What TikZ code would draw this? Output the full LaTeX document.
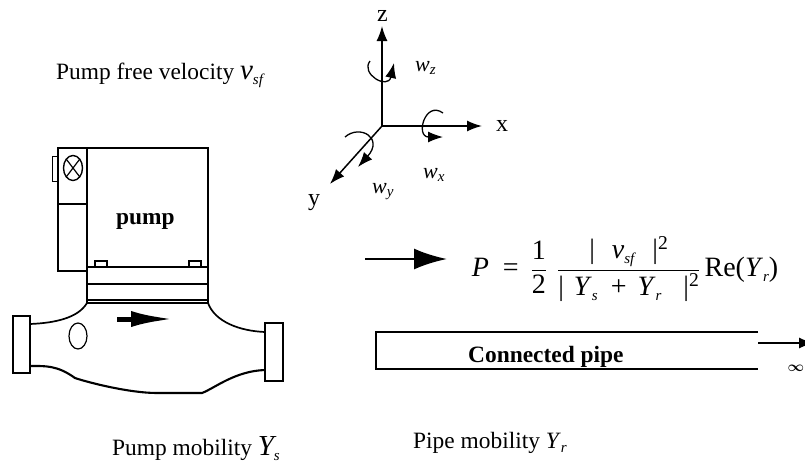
\documentclass[tikz,border=0pt]{standalone}
\usepackage{amsmath}
\usepackage{fontspec}
\setmainfont{Liberation Serif}
\usetikzlibrary{arrows.meta,positioning,shapes.geometric}
\newcommand{\ital}[1]{\textit{#1}}
% big italic letter, small lowered index
\newcommand{\lowtxt}[2][5pt]{\raisebox{-#1}{\fontsize{15}{15}\selectfont\itshape #2}}
\newcommand{\bigvar}[1]{{\fontsize{29}{30}\selectfont\itshape #1}}
\tikzset{
  lbl/.style={font=\fontsize{23.4}{26}\selectfont,inner sep=0pt,anchor=base west},
  lblb/.style={lbl,font=\fontsize{23.4}{26}\selectfont\bfseries},
  axlbl/.style={lbl,font=\fontsize{24}{26}\selectfont},
  rotlbl/.style={lbl,font=\fontsize{22}{24}\selectfont\itshape},
  body/.style={draw=black,line width=1.7pt,inner sep=0pt,outer sep=0pt},
  thinbody/.style={body,line width=1.2pt},
  axis/.style={-{Latex[length=15pt,width=11pt]},line width=1.5pt},
  spin/.style={-{Latex[length=15pt,width=11pt]},line width=1.3pt},
  flow/.style={-{Latex[length=33pt,width=21pt]},line width=2.6pt},
}
\begin{document}
\begin{tikzpicture}[x=1pt,y=-1pt]
  \useasboundingbox (0,0) rectangle (805,464);

  % texts
  \node[lbl] (vellbl) at (56,79) {Pump free velocity \bigvar{v}\lowtxt{sf}};
  \node[lbl] (ylbl) at (112,455) {Pump mobility \bigvar{Y}\lowtxt{s}};
  \node[lbl] (rlbl) at (413,448) {Pipe mobility \ital{Y}\lowtxt[4pt]{r}};

  % pump head
  \node[body,minimum width=121,minimum height=119] (head) at (147.5,207.5) {};
  \node[lblb] (pumplbl) at (116,224) {pump};
  \node[body,minimum width=29,minimum height=123] (side) at (72.5,209.5) {};
  \coordinate (sidel) at (58,204);
  \coordinate (sider) at (87,204);
  \draw[thinbody] (sidel) -- (sider);
  \node[thinbody,line width=0.7pt,minimum width=6,minimum height=25] (tab) at (55,168.5) {};
  \node[thinbody,line width=1.4pt,ellipse,minimum width=19,minimum height=25] (gauge) at (73,168) {};
  \draw[thinbody] (gauge.north west) -- (gauge.south east);
  \draw[thinbody] (gauge.south west) -- (gauge.north east);
  \node[thinbody,minimum width=12,minimum height=6] (lugl) at (101,264) {};
  \node[thinbody,minimum width=12,minimum height=6] (lugr) at (195,264) {};

  % collar
  \node[body,minimum width=121,minimum height=36] (collar) at (147.5,285) {};
  \coordinate (collarl) at (87,284);
  \coordinate (collarr) at (208,284);
  \draw[body] (collarl) -- (collarr);
  \coordinate (seatl) at (87,300);
  \coordinate (seatr) at (208,300);
  \draw[thinbody] (seatl) -- (seatr);

  % flanges and casing
  \node[body,minimum width=17,minimum height=57] (flangel) at (21.5,344.5) {};
  \node[body,minimum width=18,minimum height=58] (flanger) at (274,352) {};
  \draw[body] (collar.south west) .. controls (78,318) and (55,323) .. (flangel.east |- 0,324);
  \draw[body] (collar.south east) .. controls (215,322) and (240,331) .. (flanger.west |- 0,332);
  \draw[body,line width=2.1pt] (flangel.east |- 0,366) .. controls (45,366) and (57,365) .. (75,378)
    .. controls (90,383) and (130,393) .. (157,393)
    -- (202,393)
    .. controls (215,388) and (235,371) .. (flanger.west |- 0,370);
  \node[thinbody,ellipse,minimum width=18,minimum height=26] (port) at (78,336) {};
  \coordinate (pumpa) at (117,319);
  \coordinate (pumpb) at (174,319);
  \draw[flow,-{Latex[length=43pt,width=16pt]},line width=5pt] (pumpa) -- (pumpb);

  % axes
  \coordinate (orig) at (382,126);
  \coordinate (zend) at (382,26);
  \coordinate (xend) at (482,126);
  \coordinate (yend) at (330,184);
  \draw[axis] (orig) -- (zend);
  \draw[axis] (orig) -- (xend);
  \draw[axis] (orig) -- (yend);
  \node[axlbl] (zlbl) at (377,21) {z};
  \node[axlbl] (xlbl) at (496,131) {x};
  \node[axlbl] (ylab) at (308,205) {y};
  \node[rotlbl] (wz) at (415,71) {w\lowtxt[3pt]{z}};
  \node[rotlbl] (wx) at (423,178) {w\lowtxt[3pt]{x}};
  \node[rotlbl] (wy) at (372,193) {w\lowtxt[3pt]{y}};
  \coordinate (spinza) at (370,61);
  \coordinate (spinzb) at (394,63);
  \draw[spin] (spinza) .. controls (360,74) and (388,90) .. (spinzb);
  \coordinate (spinxa) at (443,113);
  \coordinate (spinxb) at (443,137);
  \draw[spin] (spinxa) .. controls (425,100) and (415,137) .. (spinxb);
  \coordinate (spinya) at (345,137);
  \coordinate (spinyb) at (358,167);
  \draw[spin] (spinya) .. controls (360,124) and (384,138) .. (spinyb);

  % power
  \coordinate (powa) at (365,259);
  \coordinate (powb) at (447,259);
  \draw[flow] (powa) -- (powb);
  \node[inner sep=0pt,font=\fontsize{28}{30}\selectfont] (power) at (625,269)
    {$\text{\ital{P}\hspace{14pt}=\hspace{12pt}}\genfrac{}{}{1pt}{0}{\text{1}}{\text{2}}
      \text{\hspace{10pt}}
      \genfrac{}{}{1pt}{0}{\text{|\hspace{17pt}\ital{v}\lowtxt{sf}\hspace{18pt}|\textsuperscript{2}}}
      {\text{|\hspace{10pt}\ital{Y}\lowtxt{s}\hspace{13pt}+\hspace{11pt}\ital{Y}\lowtxt{r}\hspace{22pt}|\textsuperscript{2}}}
      \text{\hspace{4pt}Re(\ital{Y}\lowtxt{r})}$};

  % pipe
  \coordinate (pipea) at (758,332);
  \coordinate (pipeb) at (376,332);
  \coordinate (pipec) at (376,369);
  \coordinate (piped) at (758,369);
  \draw[body] (pipea) -- (pipeb) -- (pipec) -- (piped);
  \node[lblb] (pipelbl) at (468,362) {Connected pipe};
  \coordinate (infa) at (758,343);
  \coordinate (infb) at (814,343);
  \draw[axis] (infa) -- (infb);
  \node[inner sep=0pt,font=\fontsize{14}{16}\selectfont\boldmath] (inf) at (796,368) {$\infty$};
\end{tikzpicture}
\end{document}
